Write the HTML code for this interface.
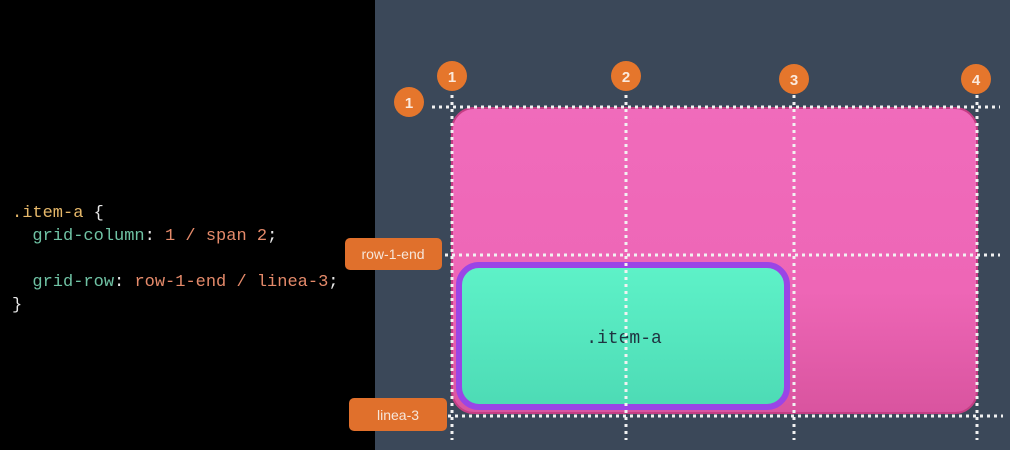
<!DOCTYPE html>
<html><head><meta charset="utf-8"><style>
html,body{margin:0;padding:0;background:#000;}
#wrap{position:relative;width:1010px;height:450px;overflow:hidden;background:#000;}
#code{position:absolute;left:12px;top:202px;font-family:"Liberation Mono","DejaVu Sans Mono",monospace;font-size:17px;line-height:23px;color:#e8e8e8;white-space:pre;}
.k{color:#e6b86a}.p{color:#6fc2a4}.v{color:#e58a6a}
svg{position:absolute;left:0;top:0}
</style></head><body>
<div id="wrap">
<div id="code"><span class="k">.item-a</span> {
  <span class="p">grid-column</span>: <span class="v">1 / span 2</span>;

  <span class="p">grid-row</span>: <span class="v">row-1-end / linea-3</span>;
}</div>
<svg width="1010" height="450">
<defs>
<linearGradient id="pg" x1="0" y1="0" x2="0" y2="1"><stop offset="0" stop-color="#f06bbb"/><stop offset="0.6" stop-color="#ee66b6"/><stop offset="1" stop-color="#d9549f"/></linearGradient>
<linearGradient id="gg" x1="0" y1="0" x2="0" y2="1"><stop offset="0" stop-color="#5ef2c8"/><stop offset="1" stop-color="#4ddbb5"/></linearGradient>
</defs>
<rect x="375" y="0" width="635" height="450" fill="#3b4859"/>
<rect x="452" y="108" width="525" height="305" rx="22" fill="url(#pg)" stroke="#c43e84" stroke-width="2"/>
<rect x="459" y="265" width="328" height="142" rx="20" fill="url(#gg)" stroke="#9a45e6" stroke-width="6"/>
<text x="624" y="343" text-anchor="middle" font-family="Liberation Mono,monospace" font-size="18" fill="#1f3340">.item-a</text>
<g stroke="#f2f2f2" stroke-width="3" stroke-dasharray="3 4" fill="none">
<line x1="452" y1="95" x2="452" y2="440"/>
<line x1="626" y1="95" x2="626" y2="440"/>
<line x1="794" y1="95" x2="794" y2="440"/>
<line x1="977" y1="95" x2="977" y2="440"/>
<line x1="432" y1="107" x2="1000" y2="107"/>
<line x1="445" y1="255" x2="1000" y2="255"/>
<line x1="448" y1="416" x2="1003" y2="416"/>
</g>
<g font-family="Liberation Sans,sans-serif" font-weight="bold" font-size="15" fill="#fbe9dc" text-anchor="middle">
<circle cx="452" cy="76" r="15" fill="#e5762c"/><text x="452" y="82">1</text>
<circle cx="626" cy="76" r="15" fill="#e5762c"/><text x="626" y="82">2</text>
<circle cx="794" cy="79" r="15" fill="#e5762c"/><text x="794" y="85">3</text>
<circle cx="976" cy="79" r="15" fill="#e5762c"/><text x="976" y="85">4</text>
<circle cx="409" cy="102" r="15" fill="#e5762c"/><text x="409" y="108">1</text>
</g>
<g font-family="Liberation Sans,sans-serif" font-size="14" fill="#f6e6da" text-anchor="middle">
<rect x="345" y="238" width="97" height="32" rx="5" fill="#e0702c"/><text x="393" y="259">row-1-end</text>
<rect x="349" y="398" width="98" height="33" rx="5" fill="#e0702c"/><text x="398" y="420">linea-3</text>
</g>
</svg>
</div>
</body></html>
